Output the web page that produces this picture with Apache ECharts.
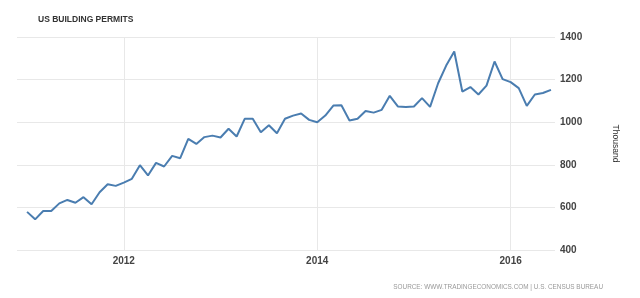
<!DOCTYPE html>
<html>
<head>
<meta charset="utf-8">
<script src="https://cdn.jsdelivr.net/npm/echarts@6/dist/echarts.min.js"></script>
<style>
html,body{margin:0;padding:0;background:#fff;}
#chart{width:640px;height:298px;}
</style>
</head>
<body>
<div id="chart"></div>
<script>
// Monthly categories Jan 2011 .. Jun 2016
const months = [];
for (let y = 2011; y <= 2016; y++) {
  for (let m = 1; m <= 12; m++) {
    if (y === 2016 && m > 6) break;
    months.push(y + '-' + (m < 10 ? '0' + m : m));
  }
}
// Building permits, thousands
const permits = [
  579, 544, 583, 583, 619, 635, 622, 648, 615, 671, 709, 701,
  716, 734, 798, 750, 809, 792, 842, 831, 922, 898, 930, 937,
  928, 969, 933, 1016, 1016, 953, 986, 948, 1016, 1031, 1041, 1011,
  1000, 1031, 1078, 1080, 1008, 1016, 1053, 1045, 1058, 1124, 1074, 1071,
  1074, 1113, 1072, 1183, 1266, 1332, 1144, 1165, 1130, 1172, 1285, 1202,
  1188, 1160, 1077, 1130, 1137, 1152
];
const yearLabels = ['2012', '2014', '2016'];
const yTicks = [400, 600, 800, 1000, 1200, 1400];

const yearPos = yearLabels.map(y => months.indexOf(y + '-01'));
const seriesData = permits.map((v, i) => [i, v]);

const chart = echarts.init(document.getElementById('chart'), null, {renderer: 'canvas'});
chart.setOption({
  animation: false,
  backgroundColor: '#ffffff',
  title: {
    text: 'US BUILDING PERMITS',
    left: 33, top: 10,
    textStyle: {fontFamily: 'Liberation Sans', fontSize: 8.5, fontWeight: 'bold', color: '#333'}
  },
  graphic: [{
    type: 'text',
    right: 37, bottom: 8,
    style: {
      text: 'SOURCE: WWW.TRADINGECONOMICS.COM | U.S. CENSUS BUREAU',
      fontFamily: 'Liberation Sans', fontSize: 6.4, fill: '#999'
    }
  }],
  grid: {left: 17, right: 85, top: 37, bottom: 48},
  xAxis: {
    type: 'value',
    min: -1.25,
    max: 65.5,
    axisLine: {show: false},
    axisTick: {show: false, customValues: yearPos},
    axisLabel: {
      customValues: yearPos,
      formatter: v => yearLabels[yearPos.indexOf(v)] || '',
      fontFamily: 'Liberation Sans', fontSize: 10, fontWeight: 'bold', color: '#444', margin: 6
    },
    splitLine: {show: true, lineStyle: {color: '#e8e8e8', width: 1}}
  },
  yAxis: {
    type: 'value',
    position: 'right',
    min: yTicks[0], max: yTicks[yTicks.length - 1], interval: 200,
    name: 'Thousand',
    nameLocation: 'middle',
    nameRotate: -90,
    nameGap: 56,
    nameTextStyle: {fontFamily: 'Liberation Sans', fontSize: 8.5, color: '#333'},
    axisLine: {show: false},
    axisTick: {show: false},
    axisLabel: {
      formatter: v => String(v),
      fontFamily: 'Liberation Sans', fontSize: 10, fontWeight: 'bold', color: '#444', margin: 5
    },
    splitLine: {lineStyle: {color: '#e8e8e8', width: 1}}
  },
  series: [{
    type: 'line',
    data: seriesData,
    showSymbol: false,
    lineStyle: {color: '#4a7db0', width: 2},
    itemStyle: {color: '#4a7db0'}
  }]
});
</script>
</body>
</html>
